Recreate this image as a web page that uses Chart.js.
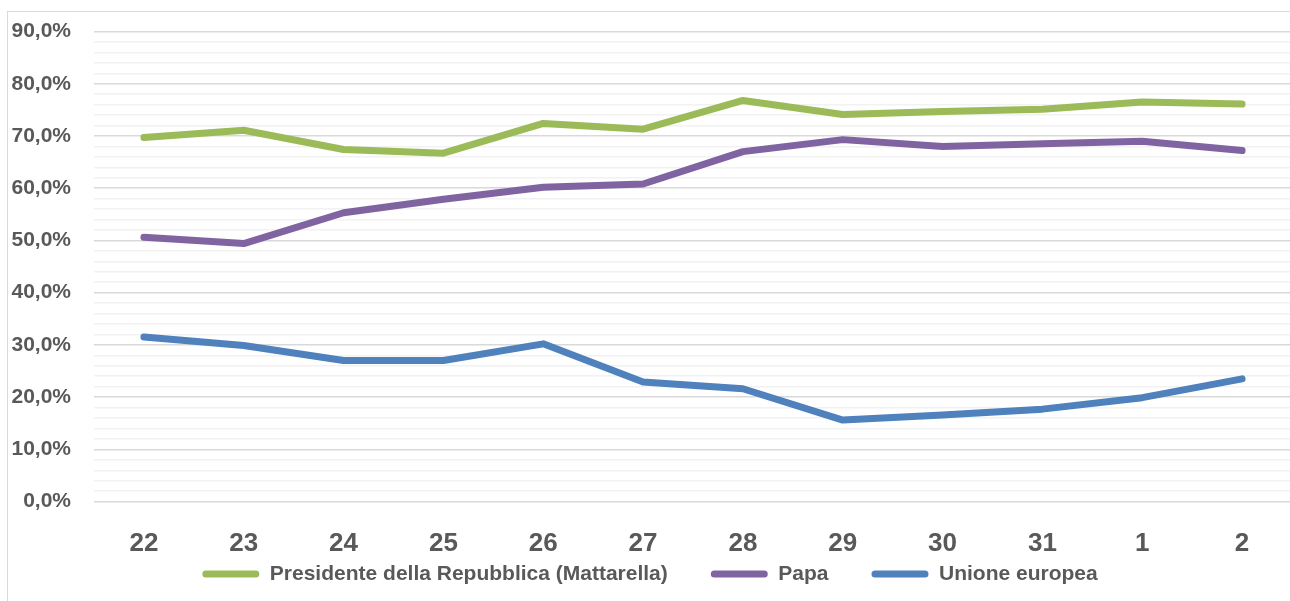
<!DOCTYPE html>
<html>
<head>
<meta charset="utf-8">
<script src="https://cdn.jsdelivr.net/npm/chart.js@4.4.1/dist/chart.umd.min.js"></script>
<style>
  html, body { margin: 0; padding: 0; background: #ffffff; overflow: hidden; }
  #frame { position: absolute; left: 7px; top: 11px; width: 1290px; height: 600px;
           border: 1px solid #d9d9d9; background: #fff; }
  #wrap { position: absolute; left: 0; top: 0; width: 1284px; height: 589px; }
</style>
</head>
<body>
<div id="frame"><div id="wrap"><canvas id="c"></canvas></div></div>
<script>
const categories = ['22', '23', '24', '25', '26', '27', '28', '29', '30', '31', '1', '2'];
const presidente = [69.7, 71.1, 67.4, 66.7, 72.4, 71.3, 76.8, 74.1, 74.7, 75.1, 76.5, 76.1];
const papa       = [50.6, 49.4, 55.3, 57.9, 60.2, 60.8, 67.0, 69.3, 68.0, 68.5, 69.0, 67.2];
const unioneEu   = [31.5, 29.9, 27.0, 27.0, 30.2, 22.9, 21.6, 15.6, 16.6, 17.7, 19.9, 23.5];
const seriesNames = ['Presidente della Repubblica (Mattarella)', 'Papa', 'Unione europea'];
const yMin = 0, yMax = 90, yMinorStep = 2, yMajorStep = 10;

const colors = ['#9BBB59', '#8064A2', '#4F81BD'];
const textColor = '#595959';
const fontFamily = '"Liberation Sans", Arial, sans-serif';

function mkDs(label, data, color) {
  return {
    label, data,
    borderColor: color, backgroundColor: color,
    borderWidth: 7, borderCapStyle: 'round', borderJoinStyle: 'round',
    pointRadius: 0, pointHoverRadius: 0, tension: 0, fill: false
  };
}

new Chart(document.getElementById('c'), {
  type: 'line',
  data: {
    labels: categories,
    datasets: [
      mkDs(seriesNames[0], presidente, colors[0]),
      mkDs(seriesNames[1], papa, colors[1]),
      mkDs(seriesNames[2], unioneEu, colors[2])
    ]
  },
  options: {
    responsive: true,
    maintainAspectRatio: false,
    animation: false,
    layout: { padding: { top: 0, right: 0, bottom: 6.4, left: 0 } },
    plugins: {
      tooltip: { enabled: false },
      legend: {
        position: 'bottom',
        labels: {
          boxWidth: 57, boxHeight: 7, padding: 43,
          useBorderRadius: true, borderRadius: 3.5,
          color: textColor,
          font: { family: fontFamily, size: 21, weight: 'bold' },
          generateLabels(chart) {
            return Chart.defaults.plugins.legend.labels.generateLabels(chart).map(it => {
              it.fillStyle = it.strokeStyle; it.lineWidth = 0; it.borderRadius = 3.5; return it;
            });
          }
        }
      }
    },
    scales: {
      x: {
        offset: true,
        border: { display: false },
        grid: { display: false, drawTicks: false },
        afterFit(scale) {
          scale.height = 19;
          // let the tick labels extend below the (short) axis box, over the legend's top padding
          scale._computeLabelArea = function () { return undefined; };
        },
        ticks: { color: textColor, padding: 27, font: { family: fontFamily, size: 26, weight: 'bold' } }
      },
      y: {
        min: yMin, max: yMax,
        border: { display: false },
        afterFit(scale) { scale.width = 86; scale.paddingTop = 19.5; },
        grid: {
          drawTicks: false,
          lineWidth: 1.5,
          color: ctx => (ctx.tick && Math.round(ctx.tick.value) % yMajorStep === 0) ? '#d9d9d9' : '#f2f2f2'
        },
        ticks: {
          stepSize: yMinorStep, autoSkip: false, padding: 23,
          color: textColor,
          font: { family: fontFamily, size: 21, weight: 'bold' },
          callback: v => (Math.round(v) % yMajorStep === 0) ? v.toFixed(1).replace('.', ',') + '%' : ''
        }
      }
    }
  }
});
</script>
</body>
</html>
